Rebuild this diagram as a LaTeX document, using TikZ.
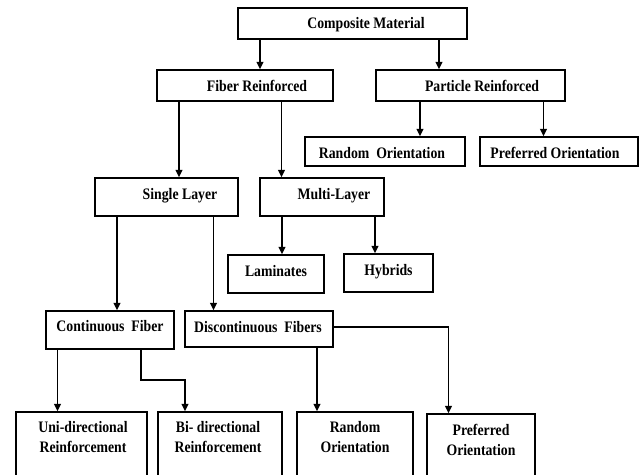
\documentclass[tikz,border=0pt]{standalone}
\usepackage{fontspec}
\setmainfont[FakeStretch=0.86]{Liberation Serif}
\usetikzlibrary{arrows.meta,fit}
\begin{document}
\begin{tikzpicture}[x=0.75pt,y=-0.75pt,
  box/.style={draw=black,line width=1.1pt,inner sep=0pt},
  lbl/.style={font=\fontsize{12}{15}\selectfont\bfseries,inner sep=0pt,anchor=base},
  lbl2/.style={font=\fontsize{12}{15}\selectfont\bfseries,inner sep=0pt,align=center,anchor=center},
  arr/.style={draw=black,line width=1.1pt,-{Triangle[length=5.5pt,width=5pt]}},
  ]
\useasboundingbox (0,0) rectangle (643,475);
% boxes
\node[box,fit={(238,8) (467,39)}] (cm) {};
\node[box,fit={(157,70) (333,101)}] (fr) {};
\node[box,fit={(376,70) (565,101)}] (pr) {};
\node[box,fit={(305,137) (465,166)}] (ro1) {};
\node[box,fit={(480,137) (638,166)}] (po1) {};
\node[box,fit={(95,178) (238,216)}] (sl) {};
\node[box,fit={(260,178) (384,216)}] (ml) {};
\node[box,fit={(228,255) (324,293)}] (lam) {};
\node[box,fit={(344,254) (433,292)}] (hyb) {};
\node[box,fit={(46,311) (174,349)}] (cf) {};
\node[box,fit={(185,311) (333,347)}] (df) {};
\node[box,fit={(16,412) (147,482)}] (uni) {};
\node[box,fit={(158,412) (282,482)}] (bi) {};
\node[box,fit={(297,412) (413,482)}] (ro2) {};
\node[box,fit={(427,414) (535,482)}] (po2) {};
% labels
\node[lbl] (tcm) at (366,28.3) {Composite Material};
\node[lbl] (tfr) at (257,91) {Fiber Reinforced};
\node[lbl] (tpr) at (482,91) {Particle Reinforced};
\node[lbl] (tro1) at (382,158) {Random\ \ Orientation};
\node[lbl] (tpo1) at (555,158) {Preferred Orientation};
\node[lbl] (tsl) at (180,199) {Single Layer};
\node[lbl] (tml) at (334,199) {Multi-Layer};
\node[lbl] (tlam) at (276,276.5) {Laminates};
\node[lbl] (thyb) at (388.5,275) {Hybrids};
\node[lbl] (tcf) at (110,331) {Continuous\ \ Fiber};
\node[lbl] (tdf) at (258,332) {Discontinuous\ \ Fibers};
\node[lbl2] (tuni) at (83,437.5) {Uni-directional\\Reinforcement};
\node[lbl2] (tbi) at (218,437.5) {Bi- directional\\Reinforcement};
\node[lbl2] (tro2) at (355,437.5) {Random\\Orientation};
\node[lbl2] (tpo2) at (481,440) {Preferred\\Orientation};
% x positions of connectors
\coordinate (a1) at (260,0);
\coordinate (a2) at (439,0);
\coordinate (a3) at (179,0);
\coordinate (a4) at (281.5,0);
\coordinate (a5) at (420,0);
\coordinate (a6) at (543.5,0);
\coordinate (a7) at (117,0);
\coordinate (a8) at (213.5,0);
\coordinate (a9) at (282,0);
\coordinate (a10) at (375,0);
\coordinate (a11) at (57.5,0);
\coordinate (a12) at (141,380);
\coordinate (a13) at (185,380);
\coordinate (a14) at (317,0);
\coordinate (a15) at (448.5,327);
% connectors
\draw[arr] (cm.south -| a1) -- (fr.north -| a1);
\draw[arr] (cm.south -| a2) -- (pr.north -| a2);
\draw[arr] (fr.south -| a3) -- (sl.north -| a3);
\draw[arr] (fr.south -| a4) -- (ml.north -| a4);
\draw[arr] (pr.south -| a5) -- (ro1.north -| a5);
\draw[arr] (pr.south -| a6) -- (po1.north -| a6);
\draw[arr] (sl.south -| a7) -- (cf.north -| a7);
\draw[arr] (sl.south -| a8) -- (df.north -| a8);
\draw[arr] (ml.south -| a9) -- (lam.north -| a9);
\draw[arr] (ml.south -| a10) -- (hyb.north -| a10);
\draw[arr] (cf.south -| a11) -- (uni.north -| a11);
\draw[arr] (cf.south -| a12) -- (a12) -- (a13) -- (bi.north -| a13);
\draw[arr] (df.south -| a14) -- (ro2.north -| a14);
\draw[arr] (df.east |- a15) -- (a15) -- (po2.north -| a15);
\end{tikzpicture}
\end{document}
